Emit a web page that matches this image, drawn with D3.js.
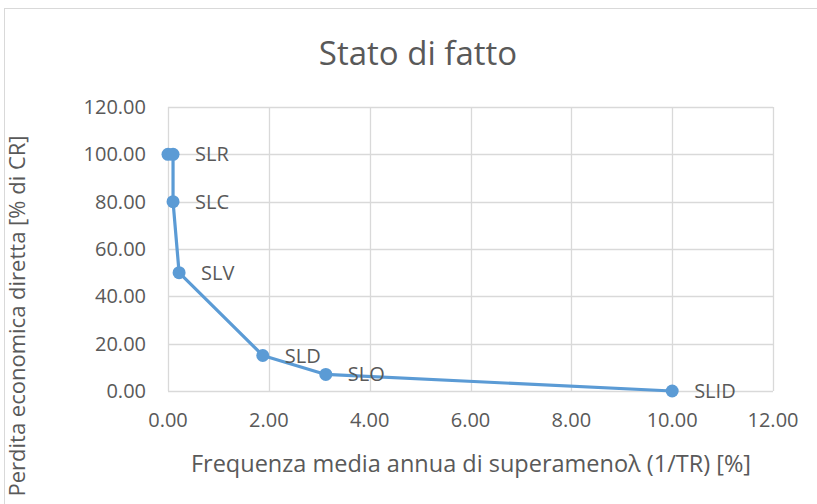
<!DOCTYPE html>
<html>
<head>
<meta charset="utf-8">
<script src="https://cdn.jsdelivr.net/npm/d3@7"></script>
<style>
  body { margin: 0; background: #fff; }
  text { font-family: "Open Sans", sans-serif; fill: #595959; }
</style>
</head>
<body>
<div id="chart"></div>
<script>
const WIDTH = 817, HEIGHT = 504;

// data
const labels = ["", "SLR", "SLC", "SLV", "SLD", "SLO", "SLID"];
const lambda = [0, 0.1, 0.1, 0.22, 1.88, 3.13, 10];
const loss = [100, 100, 80, 50, 15, 7, 0];
const xTicks = [0, 2, 4, 6, 8, 10, 12];
const yTicks = [0, 20, 40, 60, 80, 100, 120];

const points = lambda.map((d, i) => ({ x: d, y: loss[i], label: labels[i] }));

const margin = { left: 168, right: WIDTH - 773, top: 107, bottom: HEIGHT - 391 };

const svg = d3.select("#chart")
    .append("svg")
    .attr("width", WIDTH)
    .attr("height", HEIGHT)

// outer chart border
svg.append("rect")
    .attr("x", 4.5).attr("y", 8.5)
    .attr("width", WIDTH + 10).attr("height", HEIGHT + 10)
    .attr("fill", "none")
    .attr("stroke", "#d9d9d9")

const x = d3.scaleLinear().domain([0, 12]).range([margin.left, WIDTH - margin.right]);
const y = d3.scaleLinear().domain([0, 120]).range([HEIGHT - margin.bottom, margin.top]);

// grid
svg.append("g")
    .selectAll("line").data(xTicks).enter().append("line")
    .attr("x1", d => Math.round(x(d)) + 0.5).attr("x2", d => Math.round(x(d)) + 0.5)
    .attr("y1", y(120)).attr("y2", y(0))
    .attr("stroke", "#d9d9d9").attr("stroke-width", 1.3)
svg.append("g")
    .selectAll("line").data(yTicks).enter().append("line")
    .attr("y1", d => Math.round(y(d)) + 0.5).attr("y2", d => Math.round(y(d)) + 0.5)
    .attr("x1", x(0)).attr("x2", x(12))
    .attr("stroke", "#d9d9d9").attr("stroke-width", 1.3)

// tick labels
svg.append("g")
    .selectAll("text").data(xTicks).enter().append("text")
    .attr("x", d => x(d)).attr("y", y(0) + 36)
    .attr("text-anchor", "middle")
    .style("font-size", "20px")
    .text(d => d.toFixed(2))
svg.append("g")
    .selectAll("text").data(yTicks).enter().append("text")
    .attr("x", x(0) - 22).attr("y", d => y(d) + 7)
    .attr("text-anchor", "end")
    .style("font-size", "20px")
    .text(d => d.toFixed(2))

// series
const line = d3.line().x(d => x(d.x)).y(d => y(d.y));
svg.append("path")
    .datum(points)
    .attr("d", line)
    .attr("fill", "none")
    .attr("stroke", "#5b9bd5")
    .attr("stroke-width", 3.2)
    .attr("stroke-linejoin", "round")
svg.append("g")
    .selectAll("circle").data(points).enter().append("circle")
    .attr("cx", d => x(d.x)).attr("cy", d => y(d.y))
    .attr("r", 6.5)
    .attr("fill", "#5b9bd5")
svg.append("g")
    .selectAll("text").data(points).enter().append("text")
    .attr("x", d => x(d.x) + 22).attr("y", d => y(d.y) + 7)
    .style("font-size", "20px")
    .text(d => d.label)

// titles
svg.append("text")
    .attr("x", 418).attr("y", 65)
    .attr("text-anchor", "middle")
    .style("font-size", "33px")
    .text("Stato di fatto")
svg.append("text")
    .attr("x", 471).attr("y", 472)
    .attr("text-anchor", "middle")
    .style("font-size", "23.5px")
    .text("Frequenza media annua di superamenoλ (1/TR) [%]")
svg.append("text")
    .attr("transform", "translate(25,316) rotate(-90)")
    .attr("text-anchor", "middle")
    .style("font-size", "22px")
    .text("Perdita economica diretta [% di CR]")
</script>
</body>
</html>
